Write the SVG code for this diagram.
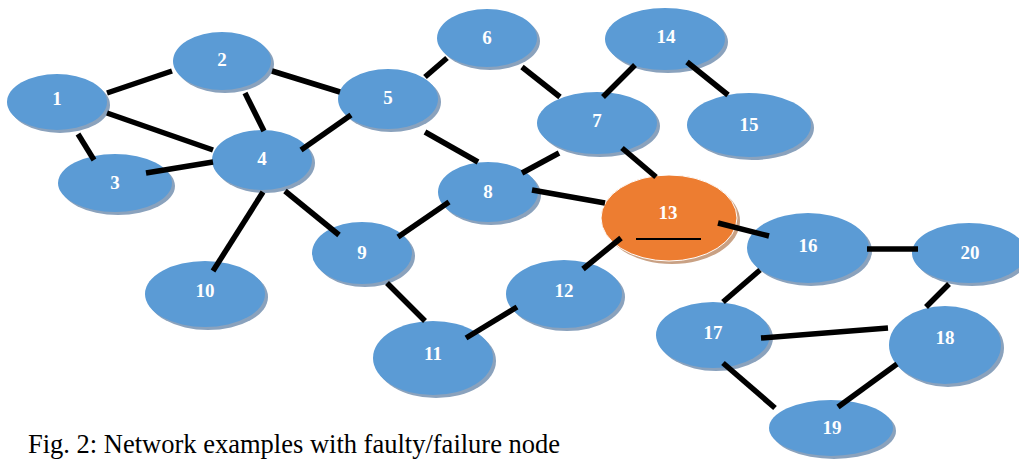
<svg xmlns="http://www.w3.org/2000/svg" width="1019" height="459" viewBox="0 0 1019 459">
  <style>
    .shadow { fill: #8aa2bd; }
    .body { fill: #5b9bd5; }
    .fault-shadow { fill: #c9a184; }
    .fault { fill: #ed7d31; stroke: #ffffff; stroke-width: 1; }
    .label { font-family: "Liberation Serif", "Times New Roman", serif; font-weight: bold; font-size: 19px; fill: #ffffff; text-anchor: middle; dominant-baseline: central; }
    .edge { stroke: #000000; stroke-width: 5.5; fill: none; }
    .caption { font-family: "Liberation Serif", "Times New Roman", serif; font-size: 26.5px; fill: #000000; }
  </style>
  <rect width="1019" height="459" fill="#ffffff"/>

  <g id="nodes">
    <g id="node-1"><ellipse class="shadow" cx="60" cy="105" rx="50" ry="28"/><ellipse class="body" cx="57" cy="102" rx="50" ry="28"/><text class="label" x="57" y="98">1</text></g>
    <g id="node-2"><ellipse class="shadow" cx="225" cy="64" rx="49" ry="29"/><ellipse class="body" cx="222" cy="61" rx="49" ry="29"/><text class="label" x="222" y="59">2</text></g>
    <g id="node-3"><ellipse class="shadow" cx="118" cy="186" rx="57" ry="29"/><ellipse class="body" cx="115" cy="183" rx="57" ry="29"/><text class="label" x="115" y="182">3</text></g>
    <g id="node-4"><ellipse class="shadow" cx="265" cy="163" rx="50" ry="30"/><ellipse class="body" cx="262" cy="160" rx="50" ry="30"/><text class="label" x="262" y="158">4</text></g>
    <g id="node-5"><ellipse class="shadow" cx="391" cy="102" rx="50" ry="30"/><ellipse class="body" cx="388" cy="99" rx="50" ry="30"/><text class="label" x="388" y="97">5</text></g>
    <g id="node-6"><ellipse class="shadow" cx="490" cy="41" rx="50" ry="29"/><ellipse class="body" cx="487" cy="38" rx="50" ry="29"/><text class="label" x="487" y="37">6</text></g>
    <g id="node-7"><ellipse class="shadow" cx="600" cy="126" rx="60" ry="31"/><ellipse class="body" cx="597" cy="123" rx="60" ry="31"/><text class="label" x="597" y="120">7</text></g>
    <g id="node-8"><ellipse class="shadow" cx="491" cy="195" rx="50" ry="30"/><ellipse class="body" cx="488" cy="192" rx="50" ry="30"/><text class="label" x="488" y="191">8</text></g>
    <g id="node-9"><ellipse class="shadow" cx="365" cy="256" rx="50" ry="31"/><ellipse class="body" cx="362" cy="253" rx="50" ry="31"/><text class="label" x="362" y="252">9</text></g>
    <g id="node-10"><ellipse class="shadow" cx="208" cy="297" rx="60" ry="33"/><ellipse class="body" cx="205" cy="294" rx="60" ry="33"/><text class="label" x="205" y="290">10</text></g>
    <g id="node-11"><ellipse class="shadow" cx="436" cy="361" rx="60" ry="37"/><ellipse class="body" cx="433" cy="358" rx="60" ry="37"/><text class="label" x="433" y="353">11</text></g>
    <g id="node-12"><ellipse class="shadow" cx="567" cy="297" rx="58" ry="34"/><ellipse class="body" cx="564" cy="294" rx="58" ry="34"/><text class="label" x="564" y="290">12</text></g>
    <g id="node-13"><ellipse class="fault-shadow" cx="672" cy="221" rx="68" ry="43"/><ellipse class="fault" cx="669" cy="218" rx="68" ry="43"/><text class="label" x="668" y="212">13</text><line x1="636" y1="239" x2="701" y2="239" stroke="#000000" stroke-width="2"/></g>
    <g id="node-14"><ellipse class="shadow" cx="668" cy="42" rx="60" ry="31"/><ellipse class="body" cx="665" cy="39" rx="60" ry="31"/><text class="label" x="666" y="36">14</text></g>
    <g id="node-15"><ellipse class="shadow" cx="752" cy="128" rx="62" ry="32"/><ellipse class="body" cx="749" cy="125" rx="62" ry="32"/><text class="label" x="749" y="124">15</text></g>
    <g id="node-16"><ellipse class="shadow" cx="811" cy="251" rx="61" ry="35"/><ellipse class="body" cx="808" cy="248" rx="61" ry="35"/><text class="label" x="808" y="245">16</text></g>
    <g id="node-17"><ellipse class="shadow" cx="716" cy="338" rx="57" ry="33"/><ellipse class="body" cx="713" cy="335" rx="57" ry="33"/><text class="label" x="713" y="332">17</text></g>
    <g id="node-18"><ellipse class="shadow" cx="948" cy="348" rx="56" ry="39"/><ellipse class="body" cx="945" cy="345" rx="56" ry="39"/><text class="label" x="945" y="337">18</text></g>
    <g id="node-19"><ellipse class="shadow" cx="834" cy="431" rx="62" ry="28"/><ellipse class="body" cx="831" cy="428" rx="62" ry="28"/><text class="label" x="832" y="427">19</text></g>
    <g id="node-20"><ellipse class="shadow" cx="972" cy="256" rx="57" ry="30"/><ellipse class="body" cx="969" cy="253" rx="57" ry="30"/><text class="label" x="970" y="252">20</text></g>
  </g>

  <g id="connectors">
    <line class="edge" x1="107" y1="93" x2="172" y2="71"/>
    <line class="edge" x1="272" y1="71" x2="340" y2="92"/>
    <line class="edge" x1="245" y1="93" x2="264" y2="131"/>
    <line class="edge" x1="107" y1="113" x2="213" y2="150"/>
    <line class="edge" x1="146" y1="173" x2="213" y2="162"/>
    <line class="edge" x1="78" y1="134" x2="94" y2="160"/>
    <line class="edge" x1="301" y1="150" x2="351" y2="115"/>
    <line class="edge" x1="425" y1="77" x2="447" y2="58"/>
    <line class="edge" x1="522" y1="67" x2="560" y2="97"/>
    <line class="edge" x1="425" y1="132" x2="478" y2="162"/>
    <line class="edge" x1="522" y1="173" x2="559" y2="153"/>
    <line class="edge" x1="532" y1="190" x2="605" y2="203"/>
    <line class="edge" x1="285" y1="191" x2="339" y2="235"/>
    <line class="edge" x1="398" y1="237" x2="449" y2="202"/>
    <line class="edge" x1="263" y1="192" x2="213" y2="271"/>
    <line class="edge" x1="387" y1="283" x2="425" y2="321"/>
    <line class="edge" x1="466" y1="338" x2="517" y2="307"/>
    <line class="edge" x1="583" y1="269" x2="621" y2="238"/>
    <line class="edge" x1="603" y1="97" x2="635" y2="65"/>
    <line class="edge" x1="687" y1="62" x2="728" y2="95"/>
    <line class="edge" x1="622" y1="148" x2="656" y2="177"/>
    <line class="edge" x1="718" y1="223" x2="769" y2="236"/>
    <line class="edge" x1="867" y1="249" x2="918" y2="249"/>
    <line class="edge" x1="723" y1="302" x2="760" y2="270"/>
    <line class="edge" x1="949" y1="284" x2="926" y2="307"/>
    <line class="edge" x1="761" y1="338" x2="888" y2="328"/>
    <line class="edge" x1="723" y1="363" x2="775" y2="408"/>
    <line class="edge" x1="838" y1="407" x2="897" y2="364"/>
  </g>

  <text class="caption" x="28" y="453">Fig. 2: Network examples with faulty/failure node</text>
</svg>
